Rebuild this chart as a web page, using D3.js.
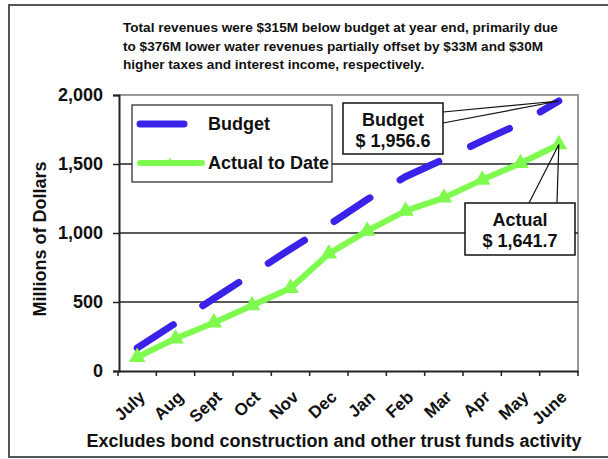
<!DOCTYPE html>
<html><head><meta charset="utf-8">
<script src="https://cdn.jsdelivr.net/npm/d3@7"></script>
<style>
body{margin:0;background:#fff;}
svg{display:block;font-family:"Liberation Sans",Arial,sans-serif;font-weight:bold;}
</style></head>
<body><svg id="c" width="608" height="459"></svg>
<script>
const months = ["July","Aug","Sept","Oct","Nov","Dec","Jan","Feb","Mar","Apr","May","June"];
const budget = [167, 346, 525, 705, 884, 1058, 1243, 1408, 1535, 1667, 1794, 1956.6];
const actual = [100, 235, 350, 475, 600, 850, 1015, 1160, 1255, 1385, 1505, 1641.7];
const yTicks = [0, 500, 1000, 1500, 2000];
const titleLines = [
  "Total revenues were $315M below budget at year end, primarily due",
  "to $376M lower water revenues partially offset by $33M and $30M",
  "higher taxes and interest income, respectively."
];
const seriesNames = ["Budget", "Actual to Date"];
const calloutBudget = ["Budget", "$ 1,956.6"];
const calloutActual = ["Actual", "$ 1,641.7"];
const yTitle = "Millions of Dollars";
const xTitle = "Excludes bond construction and other trust funds activity";

const blue = "#3a22e8", green = "#7ffb50";
const svg = d3.select("#c");
const L = 119, R = 578, T = 95, B = 371;
const x = d3.scaleBand().domain(months).range([L - 1, R]);
const y = d3.scaleLinear().domain([0, 2000]).range([B, T]);
const cx = m => x(m) + x.bandwidth() / 2;

// outer frame
svg.append("rect").attr("x", 9).attr("y", 5).attr("width", 700).attr("height", 452)
  .attr("fill", "none").attr("stroke", "#555").attr("stroke-width", 2);

// title
svg.append("g").selectAll("text").data(titleLines).join("text")
  .attr("x", 123).attr("y", (d, i) => 32 + i * 18.5)
  .attr("font-size", 13.6).attr("fill", "#111").text(d => d);

// plot border (top/right)
svg.append("path").attr("d", `M${L},${T}H${R}V${B}`).attr("fill", "none")
  .attr("stroke", "#999").attr("stroke-width", 2);

// gridlines
svg.append("g").selectAll("line").data(yTicks.filter(t => t > 0 && t < 2000)).join("line")
  .attr("x1", L).attr("x2", R).attr("y1", d => y(d)).attr("y2", d => y(d))
  .attr("stroke", "#222").attr("stroke-width", 1.3);

// y axis
const yAxis = svg.append("g").attr("transform", `translate(${L},0)`)
  .call(d3.axisLeft(y).tickValues(yTicks).tickSize(6).tickPadding(10).tickFormat(d3.format(",")));
yAxis.select(".domain").attr("stroke", "#222").attr("stroke-width", 2);
yAxis.selectAll(".tick line").attr("stroke", "#222").attr("stroke-width", 1.5);
yAxis.selectAll("text").attr("font-size", 18).attr("font-family", "Liberation Sans, Arial, sans-serif")
  .attr("font-weight", "bold").attr("fill", "#111");

// x axis
const xAxis = svg.append("g").attr("transform", `translate(0,${B})`)
  .call(d3.axisBottom(x).tickSize(0).tickFormat(""));
xAxis.select(".domain").attr("stroke", "#222").attr("stroke-width", 2);
const edges = months.map(m => x(m)).concat([R]);
svg.append("g").selectAll("line").data(edges).join("line")
  .attr("x1", d => d).attr("x2", d => d).attr("y1", B).attr("y2", B + 5)
  .attr("stroke", "#222").attr("stroke-width", 1.5);
svg.append("g").selectAll("text").data(months).join("text")
  .attr("transform", d => `translate(${cx(d) + 5},${B + 23}) rotate(-43)`)
  .attr("text-anchor", "end").attr("dy", "0.35em")
  .attr("font-size", 17).attr("fill", "#111").text(d => d);

// axis titles
svg.append("text").attr("transform", "translate(46,239) rotate(-90)")
  .attr("text-anchor", "middle").attr("font-size", 18).attr("fill", "#111").text(yTitle);
svg.append("text").attr("x", 334).attr("y", 447).attr("text-anchor", "middle")
  .attr("font-size", 18).attr("fill", "#111").text(xTitle);

// lines
const line = d3.line().x((d, i) => cx(months[i])).y(d => y(d));
svg.append("path").datum(budget).attr("d", line).attr("fill", "none")
  .attr("stroke", blue).attr("stroke-width", 7).attr("stroke-linecap", "round")
  .attr("stroke-dasharray", "43 35");
svg.append("path").datum(actual).attr("d", line).attr("fill", "none")
  .attr("stroke", green).attr("stroke-width", 6).attr("stroke-linejoin", "round");
const tri = d3.symbol().type(d3.symbolTriangle).size(120);
svg.append("g").selectAll("path").data(actual).join("path")
  .attr("transform", (d, i) => `translate(${cx(months[i])},${y(d)})`)
  .attr("d", tri).attr("fill", green);

// legend
const lg = svg.append("g");
lg.append("rect").attr("x", 132).attr("y", 105).attr("width", 200).attr("height", 77)
  .attr("fill", "#fff").attr("stroke", "#333").attr("stroke-width", 1.3);
lg.append("line").attr("x1", 140).attr("x2", 184).attr("y1", 124).attr("y2", 124)
  .attr("stroke", blue).attr("stroke-width", 7).attr("stroke-linecap", "round");
lg.append("line").attr("x1", 140).attr("x2", 202).attr("y1", 163).attr("y2", 163)
  .attr("stroke", green).attr("stroke-width", 6).attr("stroke-linecap", "round");
lg.append("path").attr("transform", "translate(170,163)").attr("d", d3.symbol().type(d3.symbolTriangle).size(40))
  .attr("fill", green);
lg.selectAll("text").data(seriesNames).join("text")
  .attr("x", 208).attr("y", (d, i) => 130 + i * 39).attr("font-size", 18).attr("fill", "#111").text(d => d);

// callouts
function callout(px, py, box, pts, lines) {
  const g = svg.append("g");
  g.append("path").attr("d", `M${pts[0][0]},${pts[0][1]}L${px},${py}L${pts[1][0]},${pts[1][1]}`)
    .attr("fill", "none").attr("stroke", "#111").attr("stroke-width", 1.2);
  g.append("rect").attr("x", box[0]).attr("y", box[1]).attr("width", box[2]).attr("height", box[3])
    .attr("fill", "#fff").attr("stroke", "#111").attr("stroke-width", 1.5);
  g.selectAll("text").data(lines).join("text")
    .attr("x", box[0] + box[2] / 2).attr("y", (d, i) => box[1] + 23 + i * 21)
    .attr("text-anchor", "middle").attr("font-size", 18).attr("fill", "#111").text(d => d);
}
const last = months.length - 1;
callout(cx(months[last]), y(budget[last]), [343, 103, 100, 51], [[443, 112], [443, 123]], calloutBudget);
callout(cx(months[last]), y(actual[last]), [465, 203, 110, 52], [[529, 203], [557, 203]], calloutActual);
</script></body></html>
